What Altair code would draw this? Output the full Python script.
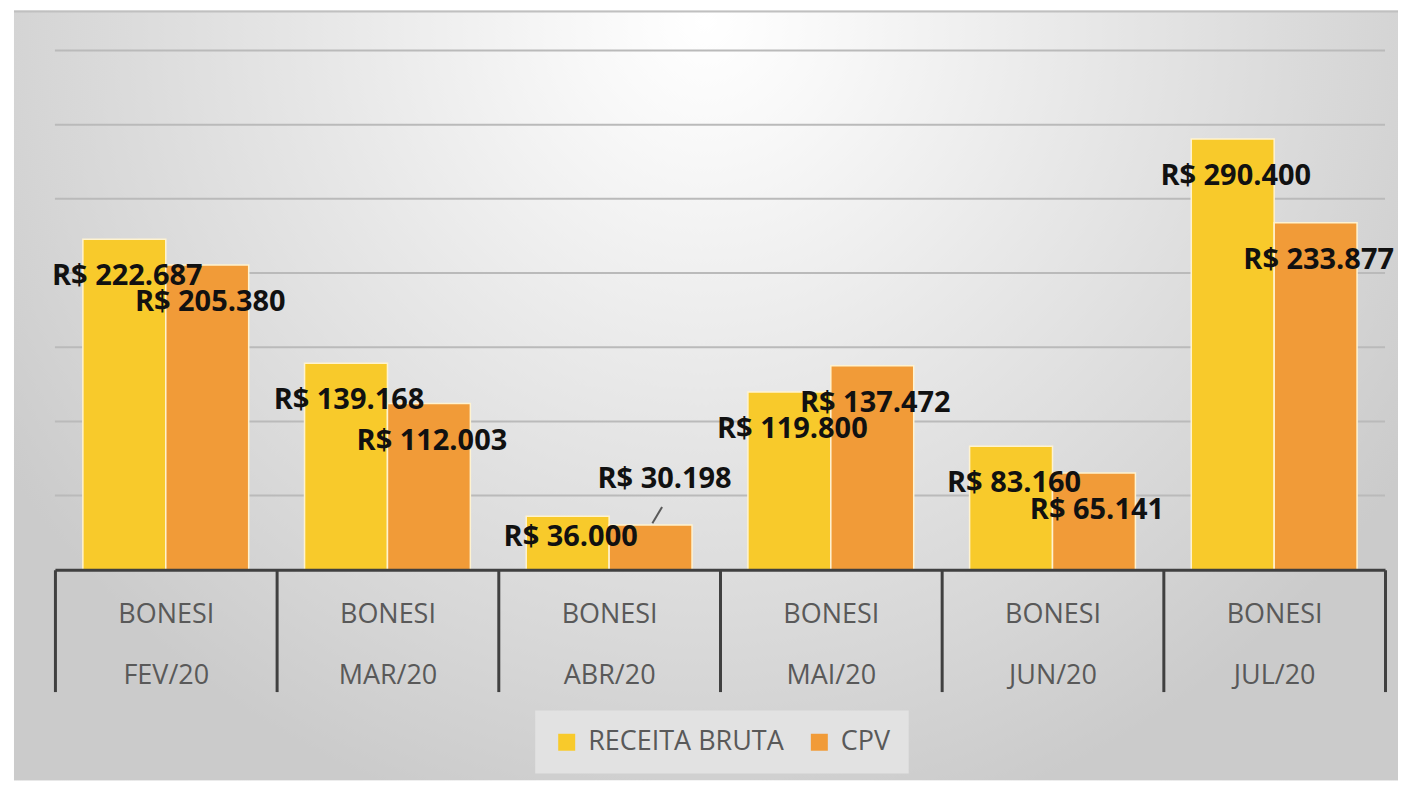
import altair as alt
import pandas as pd

products = ["BONESI", "BONESI", "BONESI", "BONESI", "BONESI", "BONESI"]
months = ["FEV/20", "MAR/20", "ABR/20", "MAI/20", "JUN/20", "JUL/20"]
receita = [222687, 139168, 36000, 119800, 83160, 290400]
cpv = [205380, 112003, 30198, 137472, 65141, 233877]
series = ["RECEITA BRUTA", "CPV"]
series_colors = ["#F8CA2B", "#F19B38"]
grid_values = [50000, 100000, 150000, 200000, 250000, 300000, 350000]

cats = [f"{p}\n{m}" for p, m in zip(products, months)]
rows = []
for c, m, r, k in zip(cats, months, receita, cpv):
    rows.append({"cat": c, "month": m, "series": series[0], "value": r})
    rows.append({"cat": c, "month": m, "series": series[1], "value": k})
df = pd.DataFrame(rows)
df["label"] = df["value"].map(lambda v: "R$ " + f"{v:,}".replace(",", "."))

yscale = alt.Scale(domain=[0, 350000], nice=False)
xscale = alt.Scale(paddingInner=0, paddingOuter=0)
xoff_scale = alt.Scale(paddingInner=0, paddingOuter=0.337)

x_enc = alt.X(
    "cat:N", sort=cats, scale=xscale, title=None,
    axis=alt.Axis(
        labelExpr="split(datum.label, '\\n')",
        domainColor="#404040", domainWidth=3,
        tickColor="#404040", tickWidth=3, tickSize=122, tickBand="extent",
        labelFont="Open Sans", labelFontSize=27, labelColor="#595959",
        labelLineHeight=61, labelBaseline="top", labelPadding=-90,
        labelAngle=0, labelOverlap=False, labelFlush=False, zindex=1,
    ),
)
xoff_enc = alt.XOffset("series:N", sort=series, scale=xoff_scale)

gradient = {
    "gradient": "radial",
    "x1": 0.5, "y1": 0.23, "r1": 0,
    "x2": 0.5, "y2": 0.23, "r2": 0.6,
    "stops": [
        {"offset": 0, "color": "#ffffff"},
        {"offset": 0.15, "color": "#f8f8f8"},
        {"offset": 0.45, "color": "#e8e8e8"},
        {"offset": 0.8, "color": "#d6d6d6"},
        {"offset": 1, "color": "#cbcbcb"},
    ],
}

bg = alt.Chart(pd.DataFrame({"bg": [0]})).mark_rect(color=gradient).encode(
    x=alt.value(-41), x2=alt.value(1345), y=alt.value(-40), y2=alt.value(731)
)
topline = alt.Chart(pd.DataFrame({"bg": [0]})).mark_rule(color="#c0c0c0", strokeWidth=2).encode(
    x=alt.value(-41), x2=alt.value(1345), y=alt.value(-39)
)

grid = alt.Chart(pd.DataFrame({"g": grid_values})).mark_rule(
    color="#bababa", strokeWidth=2
).encode(y=alt.Y("g:Q", scale=yscale, axis=None))

base = alt.Chart(df)

bars = base.mark_bar(stroke="#fff3d0", strokeWidth=1.5).encode(
    x=x_enc,
    xOffset=xoff_enc,
    y=alt.Y("value:Q", scale=yscale, axis=None),
    color=alt.Color(
        "series:N", sort=series,
        scale=alt.Scale(domain=series, range=series_colors),
        legend=alt.Legend(
            orient="none", legendX=481, legendY=661, direction="horizontal",
            title=None, labelFont="Open Sans", labelFontSize=27,
            labelColor="#595959", symbolType="square", symbolSize=289,
            symbolStrokeWidth=0, symbolOpacity=1, fillColor="#e2e2e2",
            padding=18, columnPadding=22, labelOffset=8, labelLimit=400,
        ),
    ),
)

label_style = dict(font="Open Sans", fontWeight="bold", fontSize=29,
                   color="#111111", baseline="middle")

labels_main = base.transform_filter(alt.datum.month != months[2]).mark_text(
    dy=37, dx=3, **label_style
).encode(x=x_enc, xOffset=xoff_enc, y=alt.Y("value:Q", scale=yscale, axis=None), text="label:N")

labels_abr_rb = base.transform_filter(
    (alt.datum.month == months[2]) & (alt.datum.series == series[0])
).mark_text(dy=21, dx=3, **label_style).encode(
    x=x_enc, xOffset=xoff_enc, y=alt.Y("value:Q", scale=yscale, axis=None), text="label:N")

labels_abr_cpv = base.transform_filter(
    (alt.datum.month == months[2]) & (alt.datum.series == series[1])
).mark_text(dy=-46, dx=14, **label_style).encode(
    x=x_enc, xOffset=xoff_enc, y=alt.Y("value:Q", scale=yscale, axis=None), text="label:N")

leader = base.transform_filter(
    (alt.datum.month == months[2]) & (alt.datum.series == series[1])
).mark_point(
    shape="M 0.1 -0.1 L 0.64 -1", size=1296, filled=False,
    stroke="#595959", strokeWidth=2, opacity=1,
).encode(x=x_enc, xOffset=xoff_enc, y=alt.Y("value:Q", scale=yscale, axis=None))

chart = alt.layer(
    bg, topline, grid, bars, labels_main, labels_abr_rb, labels_abr_cpv, leader
).properties(
    width=1332, height=520,
    padding={"left": 5, "top": 2, "right": 0, "bottom": 0},
    background="white",
).configure_view(stroke=None)

chart.save("out.html", embed_options={"renderer": "svg", "actions": False})
